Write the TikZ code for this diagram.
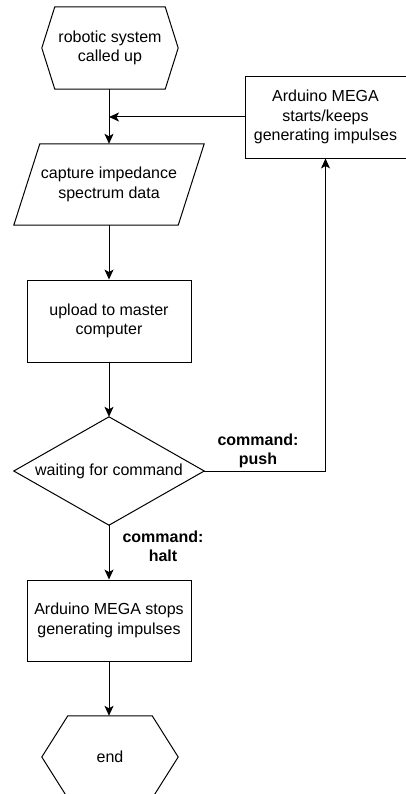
\documentclass[tikz,border=0pt]{standalone}
\usepackage{fontspec}
\setmainfont{Liberation Sans}
\usetikzlibrary{arrows.meta}
\tikzset{
  base/.style={draw=none, inner sep=0pt, align=center, font=\fontsize{16}{19.5}\selectfont},
  boxnode/.style={base, draw, line width=0.9pt, minimum width=164pt, minimum height=82pt},
  shapeline/.style={line width=1pt, line join=miter},
  arr/.style={line width=1pt, -{Stealth[length=10pt,width=9pt,inset=2.5pt]}},
  lbl/.style={align=center, inner sep=0pt, font=\fontsize{16}{19}\selectfont\bfseries}
}
\begin{document}
\begin{tikzpicture}[x=1pt,y=-1pt]
\useasboundingbox (0,0) rectangle (406,794);
% nodes
\node[base, minimum width=136pt, minimum height=82pt] (start) at (110,48) {robotic system\\called up};
\node[base, minimum width=190pt, minimum height=81pt] (cap) at (109,184.5) {capture impedance\\spectrum data};
\node[boxnode, minimum width=161pt] (ard) at (325.5,117) {Arduino MEGA\\starts/keeps\\generating impulses};
\node[boxnode] (up) at (109,321) {upload to master\\computer};
\node[base, minimum width=190pt, minimum height=108pt] (dec) at (109,471) {waiting for command};
\node[boxnode, minimum height=81pt] (stop) at (109,620.5) {Arduino MEGA stops\\generating impulses};
\node[base, minimum width=136pt, minimum height=82pt] (end) at (110,757) {end};
\coordinate (merge) at (109,117);
\node[lbl] (push) at (258,451) {command:\\push};
\node[lbl] (halt) at (163,546) {command:\\halt};
% shapes
\draw[shapeline] (start.west) -- ([xshift=13pt]start.north west) -- ([xshift=-13pt]start.north east) -- (start.east) -- ([xshift=-13pt]start.south east) -- ([xshift=13pt]start.south west) -- cycle;
\draw[shapeline] ([xshift=26pt]cap.north west) -- (cap.north east) -- ([xshift=-26pt]cap.south east) -- (cap.south west) -- cycle;
\draw[shapeline] (dec.north) -- (dec.east) -- (dec.south) -- (dec.west) -- cycle;
\draw[shapeline] (end.west) -- ([xshift=26pt]end.north west) -- ([xshift=-26pt]end.north east) -- (end.east) -- ([xshift=-26pt]end.south east) -- ([xshift=26pt]end.south west) -- cycle;
% connectors
\draw[arr] (start.south -| cap.north) -- (cap.north);
\draw[arr] (ard.west) -- (merge);
\draw[arr] (cap.south) -- (up.north);
\draw[arr] (up.south) -- (dec.north);
\draw[arr] (dec.east) -| (ard.south);
\draw[arr] (dec.south) -- (stop.north);
\draw[arr] (stop.south) -- (end.north -| stop.south);
\end{tikzpicture}
\end{document}
